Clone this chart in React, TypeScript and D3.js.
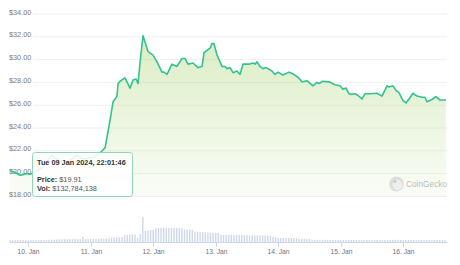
import React from "react";
import * as d3 from "d3";

const priceTimes = [
  "2024-01-09T17:00","2024-01-09T19:00","2024-01-09T20:50","2024-01-09T22:00","2024-01-09T23:30",
  "2024-01-10T00:40","2024-01-10T01:50","2024-01-10T05:40","2024-01-10T09:05","2024-01-10T11:25",
  "2024-01-10T14:55","2024-01-10T18:45","2024-01-10T21:00","2024-01-11T00:50","2024-01-11T03:35",
  "2024-01-11T04:45","2024-01-11T05:30","2024-01-11T06:15","2024-01-11T07:25","2024-01-11T08:35",
  "2024-01-11T10:05","2024-01-11T10:30","2024-01-11T11:15","2024-01-11T13:10","2024-01-11T15:05",
  "2024-01-11T16:15","2024-01-11T17:25","2024-01-11T18:10","2024-01-11T18:55","2024-01-11T20:05",
  "2024-01-11T22:00","2024-01-11T23:55","2024-01-12T01:27","2024-01-12T03:22","2024-01-12T04:08",
  "2024-01-12T05:17","2024-01-12T07:12","2024-01-12T09:07","2024-01-12T11:02","2024-01-12T12:12",
  "2024-01-12T13:21","2024-01-12T15:16","2024-01-12T17:11","2024-01-12T18:44","2024-01-12T19:30",
  "2024-01-12T20:39","2024-01-12T21:48","2024-01-12T22:34","2024-01-12T23:20","2024-01-13T00:29",
  "2024-01-13T02:25","2024-01-13T03:34","2024-01-13T04:20","2024-01-13T05:29","2024-01-13T06:38",
  "2024-01-13T08:10","2024-01-13T09:19","2024-01-13T10:28","2024-01-13T12:46","2024-01-13T14:19",
  "2024-01-13T15:05","2024-01-13T15:51","2024-01-13T17:00","2024-01-13T18:10","2024-01-13T19:19",
  "2024-01-13T21:37","2024-01-13T22:46","2024-01-13T23:55","2024-01-14T01:50","2024-01-14T04:08",
  "2024-01-14T05:40","2024-01-14T07:35","2024-01-14T09:07","2024-01-14T11:02","2024-01-14T13:20",
  "2024-01-14T14:53","2024-01-14T15:39","2024-01-14T17:11","2024-01-14T19:30","2024-01-14T21:48",
  "2024-01-14T23:43","2024-01-15T00:52","2024-01-15T02:01","2024-01-15T03:10","2024-01-15T03:56",
  "2024-01-15T05:29","2024-01-15T06:38","2024-01-15T08:10","2024-01-15T09:19","2024-01-15T11:14",
  "2024-01-15T13:56","2024-01-15T15:51","2024-01-15T17:46","2024-01-15T18:32","2024-01-15T20:04",
  "2024-01-15T21:13","2024-01-15T22:22","2024-01-15T23:55","2024-01-16T01:04","2024-01-16T02:13",
  "2024-01-16T03:45","2024-01-16T05:17","2024-01-16T07:12","2024-01-16T08:22","2024-01-16T09:07",
  "2024-01-16T11:02","2024-01-16T12:35","2024-01-16T14:07","2024-01-16T16:24",
];

const priceValues = [
  20.25, 20.1, 19.85, 19.91, 20.0,
  19.95, 20.05, 20.6, 21.6, 21.2,
  21.0, 21.6, 21.3, 21.4, 21.8,
  22.1, 22.25, 23.2, 24.7, 26.3,
  26.8, 27.9, 28.1, 28.4, 27.5,
  28.2, 28.3, 27.9, 29.7, 32.1,
  30.7, 30.4, 29.8, 28.9, 28.9,
  28.7, 29.6, 29.4, 30.1, 30.1,
  29.6, 29.7, 29.3, 29.4, 30.6,
  30.8, 31.0, 31.4, 31.4, 30.4,
  29.4, 29.4, 29.2, 29.3, 28.85,
  29.0, 28.7, 29.6, 29.6, 29.7,
  29.6, 29.8, 29.4, 29.2, 29.3,
  29.0, 28.7, 28.9, 28.65, 28.9,
  28.75, 28.45, 28.05, 28.15, 27.7,
  28.0, 27.9, 28.1, 28.05, 27.8,
  27.7, 27.4, 27.5, 27.0, 26.95,
  27.0, 26.85, 26.55, 27.0, 27.0,
  27.05, 26.8, 27.7, 27.6, 27.7,
  27.3, 27.1, 26.4, 26.2, 26.55,
  27.05, 26.8, 26.7, 26.7, 26.3,
  26.5, 26.75, 26.45, 26.45,
];

// hourly total volume (millions USD), starting 2024-01-09 17:00 UTC
const volumeStart = "2024-01-09T17:00";
const volumeValues = [
  110, 120, 125, 130, 133, 128, 122,
  118, 125, 130, 135, 128, 140, 132, 138, 145, 150,
  165, 170, 180, 175, 190, 185, 200, 195, 205, 190, 210,
  340,
  190, 200, 185, 205, 195, 210, 220, 215, 230, 240,
  280, 300, 320, 310, 330,
  450, 480, 500, 520, 510,
  270, 530, 1650,
  720, 760, 780, 800,
  900, 920, 930, 935, 940, 935, 930, 925, 920, 915, 910,
  820, 810, 800, 790,
  700, 680, 670, 660, 650, 640,
  610, 600, 590, 600,
  480, 470, 470, 465, 470, 460, 460, 455, 460, 450, 450, 445, 440, 450, 445, 440, 435, 430, 430, 425,
  340, 330,
  270, 265, 260, 270, 260, 255, 260, 250,
  210, 200, 200, 195, 190,
  150, 145, 140, 145, 140, 138, 142, 140, 136, 140, 138, 135, 140, 142, 138, 136, 140, 138, 135, 137,
  140, 138, 136, 140, 142, 138, 135, 137, 140, 136, 138, 140, 150, 145, 140, 138, 136, 140, 138, 135,
  137, 140, 138, 136, 135, 138, 140, 137, 136, 138, 140, 136,
];

const yTicks = [18, 20, 22, 24, 26, 28, 30, 32, 34];
const xTickDays = ["2024-01-10", "2024-01-11", "2024-01-12", "2024-01-13", "2024-01-14", "2024-01-15", "2024-01-16"];

const tooltipTitle = "Tue 09 Jan 2024, 22:01:46";
const tooltipPrice = "$19.91";
const tooltipVol = "$132,784,138";

const FONT = "'Liberation Sans', Arial, Helvetica, sans-serif";

export default function App() {
  const parse = (s: string) => new Date(s + (s.length <= 10 ? "T00:00:00Z" : ":00Z"));
  const x = d3
    .scaleUtc()
    .domain([parse("2024-01-09T17:00"), parse("2024-01-16T17:00")])
    .range([10, 447.5]);
  const y = d3.scaleLinear().domain([18, 34]).range([196.4, 14]);
  const vy = d3.scaleLinear().domain([0, 1650]).range([242, 217]);

  const pts = priceTimes.map((t, i) => ({ t: parse(t), v: priceValues[i] }));
  const line = d3
    .line<{ t: Date; v: number }>()
    .x((d) => x(d.t))
    .y((d) => y(d.v));
  const area = d3
    .area<{ t: Date; v: number }>()
    .x((d) => x(d.t))
    .y0(197)
    .y1((d) => y(d.v));

  const vStart = parse(volumeStart).getTime();
  const bars = volumeValues.map((v, i) => ({ t: new Date(vStart + i * 3600 * 1000), v }));
  const fmt = d3.utcFormat("%-d. %b");

  return (
    <div style={{ position: "fixed", left: 0, top: 0 }}>
      <svg width={460} height={265} style={{ display: "block", fontFamily: FONT }}>
        <defs>
          <linearGradient id="fillGrad" gradientUnits="userSpaceOnUse" x1="0" y1="36" x2="0" y2="197">
            <stop offset="0%" stopColor="#8dc647" stopOpacity={0.32} />
            <stop offset="100%" stopColor="#8dc647" stopOpacity={0.04} />
          </linearGradient>
        </defs>
        <rect width={460} height={265} fill="#fff" />
        {yTicks.map((t) => (
          <g key={t}>
            <line x1={33} x2={447} y1={y(t)} y2={y(t)} stroke="#f0f0f0" strokeWidth={1} />
            <text x={9} y={y(t) + 0.5} fontSize={7.3} fill="#7a7a85">
              {d3.format("$.2f")(t)}
            </text>
          </g>
        ))}
        <path d={area(pts) || ""} fill="url(#fillGrad)" />
        <path d={line(pts) || ""} fill="none" stroke="#34c28b" strokeWidth={1.6} strokeLinejoin="round" />

        {/* CoinGecko watermark */}
        <g opacity={0.55}>
          <circle cx={396.5} cy={184} r={7.5} fill="#c9c9c9" />
          <circle cx={397.5} cy={185} r={5} fill="#e6e6e6" />
          <circle cx={395} cy={181.5} r={1.3} fill="#9a9a9a" />
          <text x={406} y={187} fontSize={8.3} fill="#8a8a8a">
            CoinGecko
          </text>
        </g>

        {bars.map((b, i) => (
          <rect
            key={i}
            x={x(b.t) - 0.7}
            width={1.4}
            y={vy(b.v)}
            height={242 - vy(b.v)}
            fill="#cfd7e8"
          />
        ))}
        <line x1={10} x2={447.5} y1={242.5} y2={242.5} stroke="#ccd6eb" strokeWidth={1} />
        {xTickDays.map((d) => {
          const px = Math.round(x(parse(d))) + 0.5;
          return (
            <g key={d}>
              <line x1={px} x2={px} y1={242} y2={247} stroke="#ccd6eb" strokeWidth={1} />
              <text x={px} y={254} fontSize={6.7} fill="#6f6f7a" textAnchor="middle">
                {fmt(parse(d))}
              </text>
            </g>
          );
        })}

        {/* tooltip */}
        <g>
          <rect x={32.5} y={152.5} width={100} height={44} rx={3} fill="#ffffff" fillOpacity={0.86} stroke="#8fd6b4" strokeWidth={1} />
          <text x={37} y={164.5} fontSize={7.3} fontWeight="bold" fill="#333">
            {tooltipTitle}
          </text>
          <text x={37} y={182} fontSize={7.3} fill="#555">
            <tspan fontWeight="bold" fill="#333">Price:</tspan> {tooltipPrice}
          </text>
          <text x={37} y={191} fontSize={7.3} fill="#555">
            <tspan fontWeight="bold" fill="#333">Vol:</tspan> {tooltipVol}
          </text>
        </g>
      </svg>
    </div>
  );
}
